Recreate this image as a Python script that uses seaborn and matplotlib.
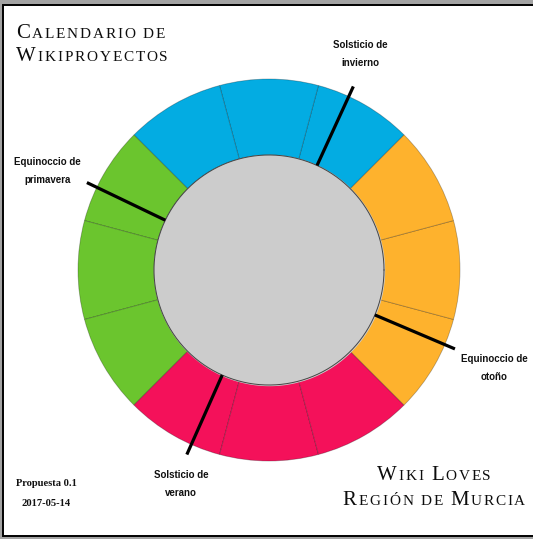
# calendario de wikiproyectos - rueda de meses

import numpy as np
import seaborn as sns
from matplotlib import pyplot as plt
from matplotlib.patches import Rectangle
from matplotlib.transforms import IdentityTransform


months = ['Dic', 'Ene', 'Feb', 'Mar', 'Abr', 'May', 'Jun', 'Jul', 'Ago', 'Sep', 'Oct', 'Nov']
month_days = [31, 31, 28, 31, 30, 31, 30, 31, 31, 30, 31, 30]
seasons = ['invierno'] * 3 + ['primavera'] * 3 + ['verano'] * 3 + ['otoño'] * 3
season_colors = {'invierno': '#03ace2', 'primavera': '#6bc52e',
                 'verano': '#f4115a', 'otoño': '#feb22d'}

event_labels = ['Solsticio de\ninvierno', 'Equinoccio de\nprimavera',
                'Solsticio de\nverano', 'Equinoccio de\notoño']
event_month = ['Dic', 'Mar', 'Jun', 'Sep']
event_day = [21, 20, 21, 22]

W, H = 533, 539

# label centres in pixels (from top-left)
label_pos = [(360, 54), (47.5, 171), (181, 484), (494.5, 368.5)]


def small_caps(fig, x, y, text, big, small, ha='left', track=1.8):
    """draws fake small caps letter by letter, x/y in pixels from top-left"""
    renderer = fig.canvas.get_renderer()
    items = []
    for ch in text:
        if ch == ' ':
            items.append((None, small * 100 / 72 * 0.25 + track))
            continue
        size = big if ch.isupper() else small
        t = fig.text(0, 0, ch.upper(), fontsize=size, family='Liberation Serif',
                     color='#0d0d0d', va='baseline', ha='left', transform=IdentityTransform())
        w = t.get_window_extent(renderer).width
        items.append((t, w + track))
    total = sum(a for _, a in items) - track
    x0 = x - total / 2 if ha == 'center' else x
    for t, adv in items:
        if t is not None:
            t.set_position((x0, H - y))
        x0 += adv


sns.set_style('white')
plt.rcParams['font.family'] = ['Liberation Sans', 'DejaVu Sans']

fig = plt.figure(figsize=(W / 100, H / 100), dpi=100)
fig.patch.set_facecolor('#a3a3a3')

# white sheet with black frame
frame = Rectangle((2.5, H - 535.5), W + 10, 531, facecolor='white', edgecolor='black',
                  linewidth=1.4, transform=IdentityTransform(), zorder=-5)
fig.add_artist(frame)

# polar axes centred on the wheel
cx, cy, rad = 269, 270, 210
ax = fig.add_axes([(cx - rad) / W, (H - cy - rad) / H, 2 * rad / W, 2 * rad / H],
                  projection='polar')
ax.set_ylim(0, rad)
ax.axis('off')

r_in, r_out = 115, 191
theta = np.deg2rad(45 + 15 + 30 * np.arange(len(months)))
colors = [season_colors[s] for s in seasons]
ax.bar(theta, r_out - r_in, width=np.deg2rad(30), bottom=r_in, color=colors,
       edgecolor=(0, 0, 0, 0.28), linewidth=0.6)

circ = np.linspace(0, 2 * np.pi, 400)
ax.fill_between(circ, 0, r_in, color='#cccccc', zorder=3)
ax.plot(circ, np.full_like(circ, r_in), color='#444444', lw=0.7, zorder=4)

for label, m, d, (lx, ly) in zip(event_labels, event_month, event_day, label_pos):
    i = months.index(m)
    th = np.deg2rad(45 + 30 * i + 30 * d / month_days[i])
    ax.plot([th, th], [r_in, 202], color='black', lw=2.3, solid_capstyle='butt',
            zorder=5, clip_on=False)
    lines = label.split('\n')
    for k, line in enumerate(lines):
        yy = ly + (k - (len(lines) - 1) / 2) * 18
        fig.text(lx / W, 1 - yy / H, line, ha='center', va='center', fontsize=7,
                 fontweight='bold', color='#111111')

small_caps(fig, 16, 37.5, 'Calendario de', 15, 11)
small_caps(fig, 16, 61, 'Wikiproyectos', 15, 11)
small_caps(fig, 434, 480, 'Wiki Loves', 15, 11, ha='center')
small_caps(fig, 434, 505, 'Región de Murcia', 15, 11, ha='center')

fig.text(46 / W, 1 - 484 / H, 'Propuesta 0.1', family='Liberation Serif', fontweight='bold',
         fontsize=7.6, ha='center', va='center', color='#111111')
fig.text(46 / W, 1 - 503 / H, '2017-05-14', family='Liberation Serif', fontweight='bold',
         fontsize=7.6, ha='center', va='center', color='#111111')

plt.savefig('out.png', dpi=100)
